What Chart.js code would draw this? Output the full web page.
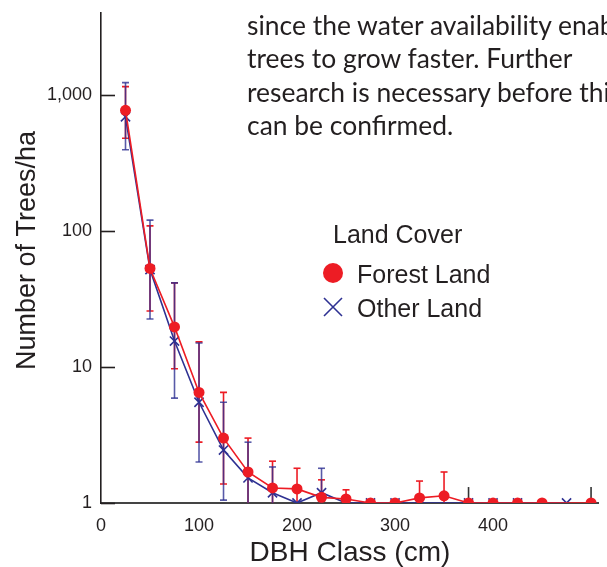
<!DOCTYPE html>
<html><head><meta charset="utf-8">
<script src="https://cdn.jsdelivr.net/npm/chart.js@4/dist/chart.umd.min.js"></script>
<style>
html,body{margin:0;padding:0;background:#fff;}
#wrap{position:relative;width:607px;height:567px;overflow:hidden;background:#fff;}
#c{position:absolute;left:0;top:0;}
#note{position:absolute;left:247px;top:0;font-family:Lato,"Open Sans",sans-serif;font-size:27px;color:#231f20;white-space:nowrap;transform-origin:0 0;}
#note div{position:absolute;left:0;height:33px;line-height:33px;}
.lg{position:absolute;font-family:"Liberation Sans",Arial,sans-serif;font-size:25px;line-height:25px;color:#231f20;white-space:nowrap;}
</style></head>
<body><div id="wrap">
<canvas id="c" width="607" height="567"></canvas>
<div id="note"></div>
<div class="lg" style="left:333px;top:222px;">Land Cover</div>
<div class="lg" style="left:323px;top:263px;width:20px;height:20px;border-radius:50%;background:#ED1C24;"></div>
<div class="lg" style="left:357px;top:262px;">Forest Land</div>
<svg class="lg" style="left:323px;top:297px;" width="20" height="20"><path d="M1 1 L19 19 M19 1 L1 19" stroke="#2E3192" stroke-width="1.6" fill="none"/></svg>
<div class="lg" style="left:357px;top:296px;">Other Land</div>
</div>
<script>
// ---- data ----
const dbhClass = [25,50,75,100,125,150,175,200,225,250,275,300,325,350,375,400,425,450,475,500];
const forestLand  = [770,53,19.7,6.5,3.0,1.69,1.29,1.27,1.1,1.07,1,1,1.09,1.13,1,1,1,1,null,1];
const forestUpper = [1150,109,41.5,15.3,6.5,3.0,2.03,1.8,1.48,1.25,null,null,1.45,1.69,null,null,null,null,null,null];
const forestLower = [480,25.8,9.7,2.8,1.38,1,1,1,1,1,null,null,1,1,null,null,null,null,null,null];
const otherLand   = [690,52,15.5,5.5,2.45,1.53,1.19,1,1.19,1,1,1,1,null,1,1,1,null,1,null];
const otherUpper  = [1230,120,41.5,15,5.5,2.8,1.84,null,1.8,null,null,null,null,null,null,null,null,null,null,null];
const otherLower  = [395,22.5,5.9,2.0,1.05,1,1,null,1,null,null,null,null,null,null,null,null,null,null,null];
const unlabelledUpper = [null,null,null,null,null,null,null,null,null,null,null,null,null,null,1.31,null,null,null,null,1.31];
const xTicks = [0,100,200,300,400];
const yTicks = [1,10,100,1000];
const noteLines = ["since the water availability enables","trees to grow faster. Further","research is necessary before this","can be confirmed."];

// ---- note text ----
const note = document.getElementById('note');
noteLines.forEach((t,i)=>{const d=document.createElement('div');d.textContent=t;d.style.top=(8+i*33.3)+'px';note.appendChild(d);});
(function(){const m=document.createElement('canvas').getContext('2d');m.font='27px Lato';const w=m.measureText(noteLines[1]).width;note.style.transform='scaleX('+(326/w)+')';})();

const RED='#ED1C24', BLUE='#2E3192';
function toPts(vals){return dbhClass.map((x,i)=>({x:x,y:vals[i]}));}

const errorBars = {
  id:'errorBars',
  beforeDatasetsDraw(chart){
    const ctx=chart.ctx, xs=chart.scales.x, ys=chart.scales.y;
    const sets=[
      {hi:forestUpper, lo:forestLower, c:RED},
      {hi:otherUpper, lo:otherLower, c:'rgba(46,49,146,0.8)'},
      {hi:unlabelledUpper, lo:[], c:'#333'}
    ];
    ctx.save(); ctx.lineWidth=1.6;
    sets.forEach(s=>{
      ctx.strokeStyle=s.c;
      dbhClass.forEach((x,i)=>{
        const hi=s.hi[i], lo=s.lo[i];
        if(hi==null && lo==null) return;
        const px=xs.getPixelForValue(x);
        const top=ys.getPixelForValue(hi!=null?hi:1), bot=ys.getPixelForValue(lo!=null?lo:1);
        ctx.beginPath(); ctx.moveTo(px,top); ctx.lineTo(px,bot); ctx.stroke();
        ctx.beginPath();
        if(hi!=null && s.lo.length){ctx.moveTo(px-3.5,top);ctx.lineTo(px+3.5,top);}
        if(lo!=null && lo>1){ctx.moveTo(px-3.5,bot);ctx.lineTo(px+3.5,bot);}
        ctx.stroke();
      });
    });
    ctx.restore();
  },
  afterDraw(chart){
    const ctx=chart.ctx, ys=chart.scales.y, a=chart.chartArea;
    ctx.save(); ctx.strokeStyle='#231f20'; ctx.lineWidth=1.6;
    yTicks.forEach(v=>{const py=Math.round(ys.getPixelForValue(v))+0.5;ctx.beginPath();ctx.moveTo(a.left,py);ctx.lineTo(a.left+14,py);ctx.stroke();});
    ctx.restore();
  }
};

new Chart(document.getElementById('c'),{
  type:'line',
  data:{datasets:[
    {label:'Forest Land',data:toPts(forestLand),borderColor:RED,backgroundColor:RED,borderWidth:1.6,pointRadius:5.5,pointBorderWidth:0,pointBackgroundColor:RED,pointStyle:'circle',spanGaps:true,tension:0},
    {label:'Other Land',data:toPts(otherLand),borderColor:BLUE,backgroundColor:BLUE,borderWidth:1.6,pointRadius:6.5,pointBorderWidth:1.6,pointStyle:'crossRot',spanGaps:true,tension:0}
  ]},
  options:{
    responsive:false,animation:false,
    layout:{padding:{top:13,right:7,left:0,bottom:0}},
    plugins:{legend:{display:false},tooltip:{enabled:false}},
    scales:{
      x:{type:'linear',min:0,max:508,
        afterBuildTicks:s=>{s.ticks=xTicks.map(v=>({value:v}));},
        afterFit:s=>{s.height=64;s.paddingLeft=0;s.paddingRight=0;},
        grid:{display:false,drawTicks:false},
        border:{display:true,color:'#444',width:2},
        ticks:{font:{family:'Liberation Sans',size:18},color:'#231f20',padding:12,maxRotation:0,autoSkip:false},
        title:{display:true,text:'DBH Class (cm)',font:{family:'Liberation Sans',size:28,lineHeight:1},color:'#231f20',padding:{top:0,bottom:0}}
      },
      y:{type:'logarithmic',min:1,max:4000,
        afterBuildTicks:s=>{s.ticks=yTicks.map(v=>({value:v}));},
        afterFit:s=>{s.width=101;s.paddingTop=0;s.paddingBottom=0;},
        grid:{display:false,drawTicks:false},
        border:{display:true,color:'#231f20',width:1.6},
        ticks:{font:{family:'Liberation Sans',size:18},color:'#231f20',padding:9,autoSkip:false,
          callback:v=>Number(v).toLocaleString('en-US')},
        title:{display:true,text:'  Number of Trees/ha',font:{family:'Liberation Sans',size:27,lineHeight:1.2},color:'#231f20',padding:{top:11,bottom:0}}
      }
    }
  },
  plugins:[errorBars]
});
</script>
</body></html>
